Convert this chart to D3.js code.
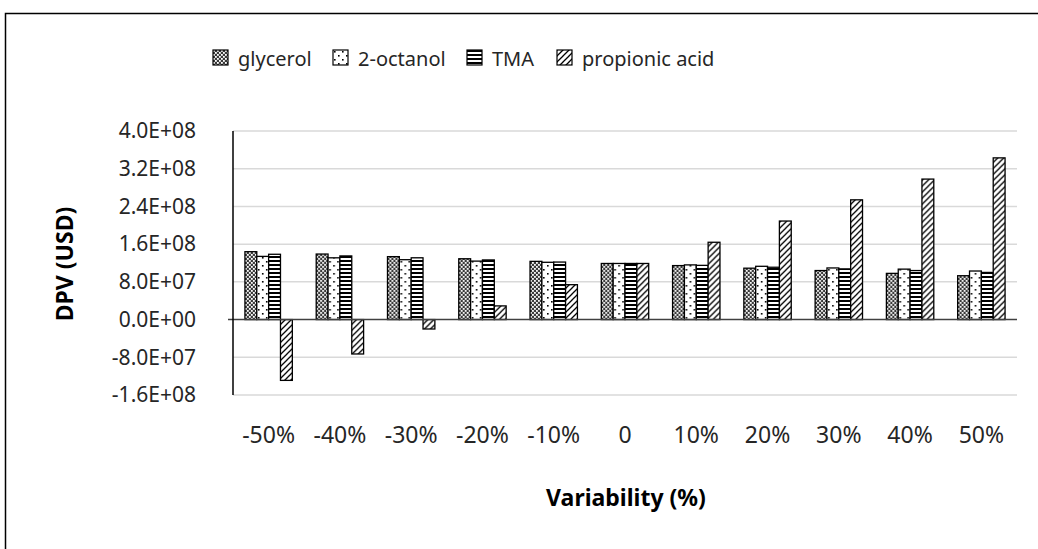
<!DOCTYPE html>
<html>
<head>
<meta charset="utf-8">
<script src="https://cdn.jsdelivr.net/npm/d3@7"></script>
<style>
html,body{margin:0;padding:0;background:#fff;}
svg{display:block;font-family:"Noto Sans","Open Sans",sans-serif;}
</style>
</head>
<body>
<svg id="chart" width="1038" height="549"></svg>
<script>
const categories = ["-50%","-40%","-30%","-20%","-10%","0","10%","20%","30%","40%","50%"];
const seriesNames = ["glycerol","2-octanol","TMA","propionic acid"];
const glycerol   = [1.44e8,1.39e8,1.335e8,1.29e8,1.235e8,1.19e8,1.145e8,1.09e8,1.04e8,0.98e8,0.93e8];
const octanol    = [1.34e8,1.31e8,1.27e8,1.24e8,1.215e8,1.19e8,1.16e8,1.13e8,1.095e8,1.07e8,1.03e8];
const tma        = [1.385e8,1.35e8,1.31e8,1.265e8,1.22e8,1.19e8,1.15e8,1.11e8,1.075e8,1.04e8,1.0e8];
const propionic  = [-1.29e8,-0.73e8,-0.20e8,0.29e8,0.74e8,1.19e8,1.64e8,2.09e8,2.54e8,2.98e8,3.43e8];
const yTicks = [-1.6e8,-8e7,0,8e7,1.6e8,2.4e8,3.2e8,4e8];

(function(){
const seriesValues = [glycerol, octanol, tma, propionic];
const patternIds = ["pGly","pOct","pTma","pProp"];
const FONT = '"Noto Sans","Open Sans",sans-serif';

const svg = d3.select("#chart");
const defs = svg.append("defs");

let p = defs.append("pattern").attr("id","pGly").attr("patternUnits","userSpaceOnUse").attr("width",4).attr("height",4);
p.append("rect").attr("width",4).attr("height",4).attr("fill","#3a3a3a");
p.append("rect").attr("x",0).attr("y",0).attr("width",1.8).attr("height",1.8).attr("fill","#fff");
p.append("rect").attr("x",2).attr("y",2).attr("width",1.8).attr("height",1.8).attr("fill","#fff");
p = defs.append("pattern").attr("id","pOct").attr("patternUnits","userSpaceOnUse").attr("width",8).attr("height",8);
p.append("rect").attr("width",8).attr("height",8).attr("fill","#fff");
p.append("rect").attr("x",1).attr("y",1).attr("width",1.6).attr("height",1.6).attr("fill","#000");
p.append("rect").attr("x",5).attr("y",5).attr("width",1.6).attr("height",1.6).attr("fill","#000");
p = defs.append("pattern").attr("id","pTma").attr("patternUnits","userSpaceOnUse").attr("width",4).attr("height",4);
p.append("rect").attr("width",4).attr("height",4).attr("fill","#fff");
p.append("rect").attr("x",0).attr("y",0).attr("width",4).attr("height",2).attr("fill","#000");
p = defs.append("pattern").attr("id","pProp").attr("patternUnits","userSpaceOnUse").attr("width",6).attr("height",6);
p.append("rect").attr("width",6).attr("height",6).attr("fill","#fff");
p.append("path").attr("d","M-1,7 L7,-1 M-4,4 L4,-4 M2,10 L10,2").attr("stroke","#000").attr("stroke-width",1.3);

svg.append("path").attr("d","M5.5,549 L5.5,13.5 L1038,13.5").attr("fill","none").attr("stroke","#000").attr("stroke-width",1.5);

const pLeft = 233, pRight = 1017, pTop = 131, pBottom = 395;
const x0 = d3.scaleBand().domain(categories).range([pLeft,pRight]).paddingInner(0.335).paddingOuter(0.1675);
const x1 = d3.scaleBand().domain(seriesNames).range([0,x0.bandwidth()]).padding(0);
const y = d3.scaleLinear().domain([-1.6e8,4e8]).range([pBottom,pTop]);

svg.append("g").selectAll("line").data(yTicks.filter(d=>d!==0)).join("line")
  .attr("x1",pLeft).attr("x2",pRight).attr("y1",d=>y(d)).attr("y2",d=>y(d))
  .attr("stroke","#d9d9d9").attr("stroke-width",1.5);

const fmt = v => {
  const s = v.toExponential(1);
  const [m,e] = s.split("e");
  const sign = e[0]==="-" ? "-" : "+";
  const num = e.replace(/[+-]/,"").padStart(2,"0");
  return m + "E" + sign + num;
};
const yAxis = svg.append("g").attr("transform",`translate(${pLeft},0)`)
  .call(d3.axisLeft(y).tickValues(yTicks).tickFormat(fmt).tickSize(0).tickPadding(37));
yAxis.attr("font-family",FONT);
yAxis.select(".domain").remove();
yAxis.selectAll("text").attr("font-size",21).attr("fill","#262626");

const groups = svg.append("g").selectAll("g").data(categories).join("g")
  .attr("transform",d=>`translate(${x0(d)},0)`);
groups.selectAll("rect").data((d,i)=>seriesNames.map((s,j)=>({s,j,v:seriesValues[j][i]}))).join("rect")
  .attr("x",d=>x1(d.s)).attr("width",x1.bandwidth())
  .attr("y",d=>y(Math.max(0,d.v))).attr("height",d=>Math.abs(y(d.v)-y(0)))
  .attr("fill",d=>`url(#${patternIds[d.j]})`).attr("stroke","#000").attr("stroke-width",1.3);

svg.append("line").attr("x1",pLeft-5).attr("x2",pRight).attr("y1",y(0)).attr("y2",y(0)).attr("stroke","#404040").attr("stroke-width",1.5);
svg.append("line").attr("x1",pLeft).attr("x2",pLeft).attr("y1",pTop).attr("y2",pBottom).attr("stroke","#000").attr("stroke-width",1.5);

const xAxis = svg.append("g").attr("transform",`translate(0,${pBottom})`)
  .call(d3.axisBottom(x0).tickSize(0).tickPadding(32));
xAxis.attr("font-family",FONT);
xAxis.select(".domain").remove();
xAxis.selectAll("text").attr("font-size",23).attr("fill","#262626");

svg.append("text").attr("x",626).attr("y",506).attr("text-anchor","middle")
  .attr("font-size",23).attr("font-weight","bold").attr("fill","#000").text("Variability (%)");
svg.append("text").attr("transform","translate(73,264) rotate(-90)").attr("text-anchor","middle")
  .attr("font-size",23).attr("font-weight","bold").attr("fill","#000").text("DPV (USD)");

const legendX = [213,333,467,557];
const lg = svg.append("g").selectAll("g").data(seriesNames).join("g")
  .attr("transform",(d,i)=>`translate(${legendX[i]},50)`);
lg.append("rect").attr("width",15).attr("height",15).attr("fill",(d,i)=>`url(#${patternIds[i]})`).attr("stroke","#000").attr("stroke-width",1.2);
lg.append("text").attr("x",25).attr("y",15.5).attr("font-size",20).attr("fill","#262626").text(d=>d);
})();
</script>
</body>
</html>
